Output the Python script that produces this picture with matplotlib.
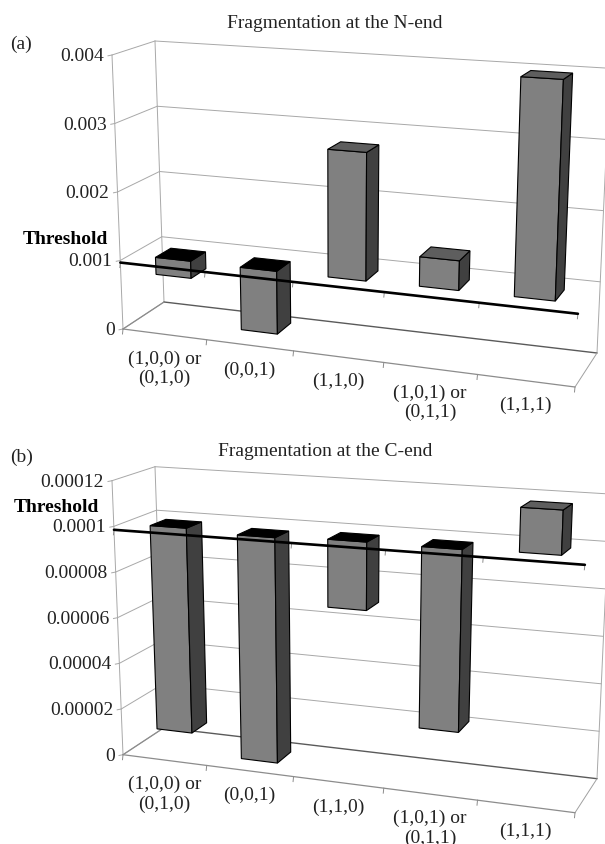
import matplotlib
matplotlib.use('Agg')
import matplotlib.pyplot as plt
from matplotlib.patches import Polygon

plt.rcParams['font.family'] = ['Liberation Serif', 'DejaVu Serif']

# Dados
categories = ['(1,0,0) or\n(0,1,0)', '(0,0,1)', '(1,1,0)', '(1,0,1) or\n(0,1,1)', '(1,1,1)']

ticks_a = [0, 0.001, 0.002, 0.003, 0.004]
tick_labels_a = ['0', '0.001', '0.002', '0.003', '0.004']
low_a = [0.00074, 0.00008, 0.00098, 0.00099, 0.00099]
high_a = [0.00099, 0.00098, 0.00279, 0.00140, 0.00399]
threshold_a = 0.00097

ticks_b = [0, 0.00002, 0.00004, 0.00006, 0.00008, 0.0001, 0.00012]
tick_labels_b = ['0', '0.00002', '0.00004', '0.00006', '0.00008', '0.0001', '0.00012']
low_b = [0.0000095, 0.000001, 0.00007, 0.000023, 0.0000993]
high_b = [0.0000992, 0.0000979, 0.0000989, 0.0000987, 0.0001177]
threshold_b = 0.0000985

# Cantos da caixa 3D em pixels (painel a); o painel b e o mesmo deslocado
FLB, FRB, BLB, BRB = (123, 329), (575, 387), (164, 302), (597, 353)
FLT, FRT, BLT, BRT = (112, 55), (587, 85), (155, 41), (610, 68.3)
PANEL_B_DY = 425.7
PERSP = 1.1
BAR_WIDTH = 0.42
BAR_V0, BAR_V1 = 0.27, 0.65
FONT_SIZE = 14

GRID = '#a8a8a8'
FLOOR = '#5a5a5a'
FRONT = '#808080'
SIDE = '#404040'
TOP = '#5e5e5e'
TEXT = '#222222'


def warp(u):
    return u / (u + PERSP * (1 - u))


def mix(a, b, t):
    return (a[0] + (b[0] - a[0]) * t, a[1] + (b[1] - a[1]) * t)


def project(u, v, w, dy=0):
    # u: categoria 0..1, v: profundidade 0..1, w: valor 0..1
    s = warp(u)
    bottom = mix(mix(FLB, FRB, s), mix(BLB, BRB, s), v)
    top = mix(mix(FLT, FRT, s), mix(BLT, BRT, s), v)
    x, y = mix(bottom, top, w)
    return x, y + dy


def draw_bar(ax, i, low, high, ymax, n, threshold, dy):
    u0 = (i + 0.5 - BAR_WIDTH / 2) / n
    u1 = (i + 0.5 + BAR_WIDTH / 2) / n
    w0, w1 = low / ymax, high / ymax
    top_color = 'black' if high < threshold + ymax * 0.01 else TOP
    faces = [
        ([(u0, BAR_V0, w0), (u1, BAR_V0, w0), (u1, BAR_V0, w1), (u0, BAR_V0, w1)], FRONT),
        ([(u1, BAR_V0, w0), (u1, BAR_V1, w0), (u1, BAR_V1, w1), (u1, BAR_V0, w1)], SIDE),
        ([(u0, BAR_V0, w1), (u1, BAR_V0, w1), (u1, BAR_V1, w1), (u0, BAR_V1, w1)], top_color),
    ]
    for pts, color in faces:
        xy = [project(a, b, c, dy) for a, b, c in pts]
        ax.add_patch(Polygon(xy, closed=True, facecolor=color, edgecolor='black',
                             linewidth=0.8, zorder=3 + i * 0.1))


def line3d(ax, p0, p1, dy, color=GRID, lw=0.7, zorder=1):
    a = project(*p0, dy)
    b = project(*p1, dy)
    ax.plot([a[0], b[0]], [a[1], b[1]], color=color, lw=lw, zorder=zorder,
            solid_capstyle='round')


def draw_panel(ax, title, title_xy, letter, letter_xy, thr_xy, ticks, tick_labels,
               low, high, threshold, dy):
    ymax = ticks[-1]
    n = len(categories)

    # paredes e chao
    for t in ticks:
        w = t / ymax
        if t > 0:
            line3d(ax, (0, 1, w), (1, 1, w), dy)
        line3d(ax, (0, 0, w), (0, 1, w), dy)
        # marca do eixo e rotulo
        x, y = project(0, 0, w, dy)
        ax.plot([x - 4, x], [y + 0.8, y], color=GRID, lw=0.7, zorder=1)
    for t, lab in zip(ticks, tick_labels):
        x, y = project(0, 0, t / ymax, dy)
        ax.text(x - 8, y + 1.5, lab, ha='right', va='center', fontsize=FONT_SIZE, color=TEXT)

    line3d(ax, (0, 0, 0), (0, 0, 1), dy)
    line3d(ax, (0, 1, 0), (0, 1, 1), dy)
    line3d(ax, (1, 1, 0), (1, 1, 1), dy)
    line3d(ax, (0, 0, 0), (1, 0, 0), dy, color='#8c8c8c', lw=0.9)
    line3d(ax, (0, 1, 0), (1, 1, 0), dy, color=FLOOR, lw=1.0)
    line3d(ax, (0, 0, 0), (0, 1, 0), dy, color='#8c8c8c', lw=0.9)
    line3d(ax, (1, 0, 0), (1, 1, 0), dy, color='#a0a0a0', lw=0.7)

    # marcas das categorias, no chao e na altura do limiar
    thr = threshold / ymax
    for i in range(n + 1):
        x, y = project(i / n, 0, 0, dy)
        ax.plot([x, x - 0.5], [y, y + 5], color='#8c8c8c', lw=0.7, zorder=1)
        x, y = project(i / n, 0, thr, dy)
        ax.plot([x, x - 0.5], [y, y + 5], color='#8c8c8c', lw=0.7, zorder=2)

    for i in range(n):
        draw_bar(ax, i, low[i], high[i], ymax, n, threshold, dy)

    # limiar
    line3d(ax, (0, 0, thr), (1, 0, thr), dy, color='black', lw=1.9, zorder=6)

    for i, lab in enumerate(categories):
        x, y = project((i + 0.5) / n, 0, 0, dy)
        ax.text(x, y + 16, lab, ha='center', va='top', fontsize=FONT_SIZE, color=TEXT,
                linespacing=1.15)

    ax.text(title_xy[0], title_xy[1], title, ha='center', va='center', fontsize=FONT_SIZE, color=TEXT)
    ax.text(letter_xy[0], letter_xy[1], letter, ha='center', va='center', fontsize=FONT_SIZE, color=TEXT)
    ax.text(thr_xy[0], thr_xy[1], 'Threshold', ha='center', va='center', fontsize=FONT_SIZE,
            fontweight='bold', color='black')


fig = plt.figure(figsize=(6.05, 8.44), dpi=100)
ax = fig.add_axes([0, 0, 1, 1])
ax.set_xlim(0, 605)
ax.set_ylim(844, 0)
ax.axis('off')

draw_panel(ax, 'Fragmentation at the N-end', (335, 23), '(a)', (21, 44), (65, 240),
           ticks_a, tick_labels_a, low_a, high_a, threshold_a, 0)
draw_panel(ax, 'Fragmentation at the C-end', (325, 452), '(b)', (22, 457), (56, 507),
           ticks_b, tick_labels_b, low_b, high_b, threshold_b, PANEL_B_DY)

fig.savefig('out.png', dpi=100)
